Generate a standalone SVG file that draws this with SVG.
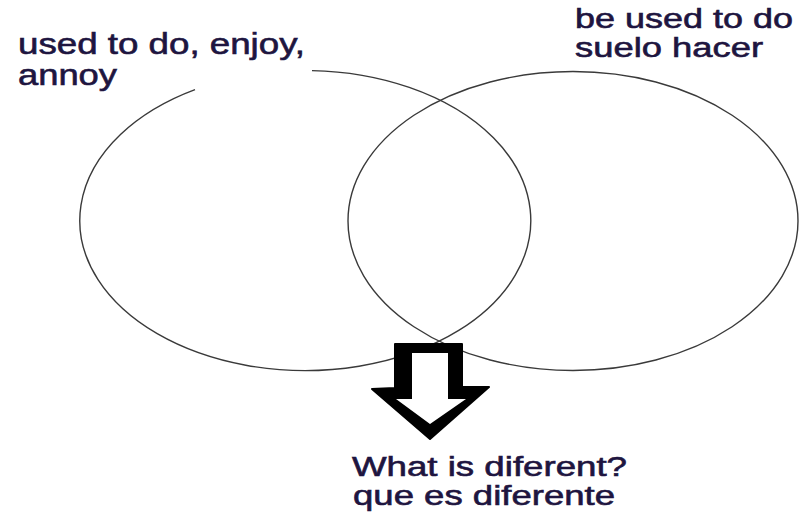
<svg xmlns="http://www.w3.org/2000/svg" width="800" height="512" viewBox="0 0 800 512">
  <style>
    .set { fill: none; stroke: #3a3a3a; stroke-width: 1.4; }
    .lbl { font-family: "Liberation Sans", Arial, sans-serif; font-size: 27px; fill: #1e1540; stroke: #1e1540; stroke-width: 0.6; }
  </style>
  <rect width="800" height="512" fill="#ffffff"/>
  <g id="set-left">
    <path class="set" d="M312,70.6 A225.5,150 0 1 1 195,89.7"/>
    <text class="lbl" x="18" y="54" style="font-size:29px" textLength="287" lengthAdjust="spacingAndGlyphs">used to do, enjoy,</text>
    <text class="lbl" x="18" y="85" style="font-size:29px" textLength="99" lengthAdjust="spacingAndGlyphs">annoy</text>
  </g>
  <g id="set-right">
    <ellipse class="set" cx="573" cy="221" rx="225" ry="149.5"/>
    <text class="lbl" x="575" y="28" textLength="218" lengthAdjust="spacingAndGlyphs">be used to do</text>
    <text class="lbl" x="575" y="57" textLength="188" lengthAdjust="spacingAndGlyphs">suelo hacer</text>
  </g>
  <g id="connectors">
    <path d="M395,344 H462 V387 H489 L430,439 L372,389 L395,388 Z" fill="#000" stroke="#000" stroke-width="2" stroke-linejoin="round"/>
    <path d="M412,353 V399 H396 L430,424 L466,399 H448 V353 Z" fill="#fff"/>
  </g>
  <g id="result">
    <text class="lbl" x="352" y="476" textLength="275" lengthAdjust="spacingAndGlyphs">What is diferent?</text>
    <text class="lbl" x="353" y="505" textLength="262" lengthAdjust="spacingAndGlyphs">que es diferente</text>
  </g>
</svg>
